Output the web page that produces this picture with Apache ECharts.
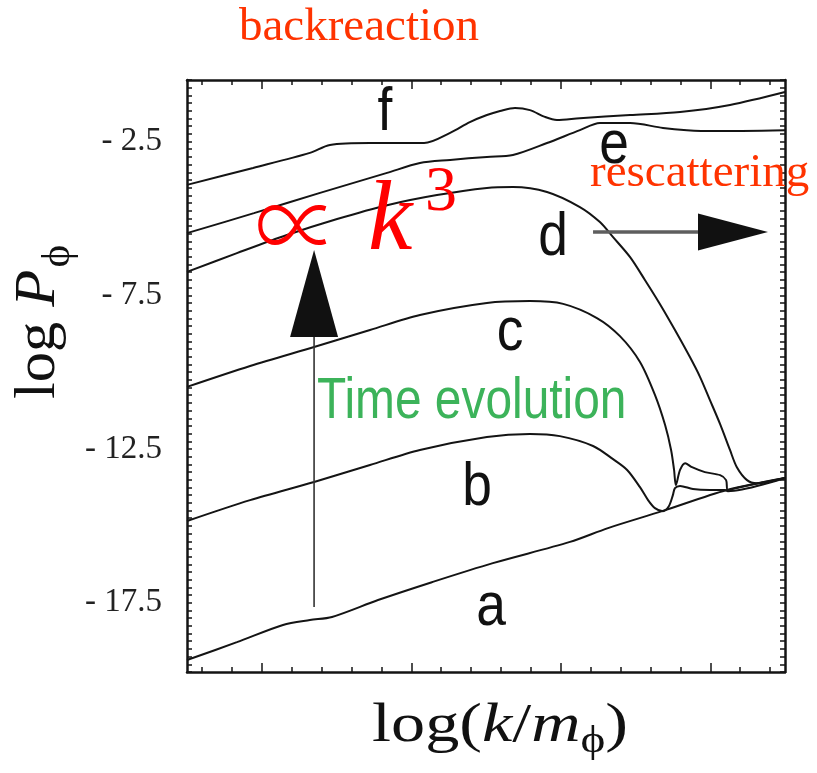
<!DOCTYPE html>
<html>
<head>
<meta charset="utf-8">
<script src="https://cdn.jsdelivr.net/npm/echarts@6/dist/echarts.min.js"></script>
<style>
  html, body { margin: 0; padding: 0; background: #ffffff; }
  #chart { width: 817px; height: 773px; }
</style>
</head>
<body>
<div id="chart"></div>
<script>
// Power spectrum log P_phi against log(k/m_phi) at six successive times (a -> f).
// x is in arbitrary log-k units across the frame, y is log P_phi.

const aX = [0, 1.67, 3.21, 4.11, 4.85, 6.39, 8.19, 10.23, 12.81, 14.08, 15.89, 18.06, 20];
const aY = [-19.36, -18.78, -18.22, -18.06, -17.96, -17.41, -16.83, -16.21, -15.52, -15.07, -14.52, -13.83, -13.44];

const bX = [0, 2.11, 4.25, 6.12, 7.79, 10.03, 11.47, 12.47, 13.58, 14.25, 14.72, 15.15, 15.42, 15.65, 15.92, 16.12, 16.25, 16.32, 16.49, 16.92, 17.49, 17.99, 18.09, 20];
const bY = [-14.84, -14.16, -13.57, -13.02, -12.53, -12.11, -12.01, -12.08, -12.40, -12.83, -13.18, -13.74, -14.16, -14.42, -14.52, -14.35, -14.00, -13.77, -13.70, -13.80, -13.83, -13.83, -13.87, -13.44];

const cX = [0, 2.11, 4.25, 6.12, 7.79, 10.03, 11.47, 12.58, 13.71, 14.48, 15.15, 15.65, 15.99, 16.19, 16.29, 16.35, 16.49, 16.66, 16.89, 17.32, 17.83, 18.03, 18.09, 18.49, 20];
const cY = [-10.48, -9.80, -9.18, -8.63, -8.14, -7.75, -7.69, -7.78, -8.24, -8.83, -9.67, -10.74, -11.72, -12.53, -13.18, -13.67, -13.18, -12.96, -13.09, -13.25, -13.35, -13.51, -13.83, -13.74, -13.44];

const dX = [0, 1.67, 3.34, 5.02, 6.69, 8.36, 10.03, 10.90, 12.04, 13.14, 13.81, 14.25, 14.82, 15.32, 15.82, 16.32, 16.82, 17.16, 17.49, 17.83, 18.16, 18.39, 18.73, 19.06, 20];
const dY = [-6.74, -6.13, -5.54, -5.02, -4.57, -4.24, -4.01, -3.98, -4.14, -4.63, -5.12, -5.61, -6.26, -7.01, -7.79, -8.63, -9.51, -10.16, -10.91, -11.69, -12.53, -13.09, -13.51, -13.61, -13.44];

const eX = [0, 2.24, 4.45, 6.69, 7.79, 8.80, 10.03, 10.90, 12.04, 13.14, 13.81, 14.82, 15.92, 16.72, 17.59, 20];
const eY = [-5.48, -4.83, -4.17, -3.52, -3.20, -3.10, -3.00, -2.94, -2.55, -2.13, -1.90, -1.90, -2.06, -2.13, -2.16, -2.13];

const fX = [0, 2.21, 4.11, 4.78, 6.12, 7.93, 8.80, 9.46, 10.03, 10.47, 10.97, 11.47, 11.97, 12.37, 13.14, 14.82, 16.49, 18.16, 20];
const fY = [-3.91, -3.36, -2.87, -2.61, -2.55, -2.55, -2.22, -1.87, -1.64, -1.51, -1.41, -1.48, -1.70, -1.80, -1.74, -1.64, -1.54, -1.31, -0.89];

// Axis ticks and labels
const yLabelValues = [-17.5, -12.5, -7.5, -2.5];
const xMinorTicks = [0.5, 1.5, 2.5, 3.5, 4.5, 5.5, 6.5, 7.5, 8.5, 9.5, 10.5, 11.5, 12.5, 13.5, 14.5, 15.5, 16.5, 17.5, 18.5, 19.5];
const xMajorTicks = [2.5, 7.5, 12.5, 17.5];

// Annotation arrows (data coordinates)
const timeArrowShaft = [[4.25, -17.64], [4.25, -8.86]];
const timeArrowHead = [[4.25, -7.44]];
const scatterArrowShaft = [[13.58, -5.44], [17.09, -5.44]];
const scatterArrowHead = [[18.26, -5.44]];

const SERIF = '"Liberation Serif", "Times New Roman", serif';
const SANS = '"Liberation Sans", Arial, sans-serif';
const INK = '#141414';

function pairs(xs, ys) { return xs.map((x, i) => [x, ys[i]]); }

function curve(name, xs, ys) {
  return {
    type: 'line', name: name, data: pairs(xs, ys),
    smooth: 0.3, showSymbol: false, symbol: 'none', silent: true,
    lineStyle: { color: INK, width: 2 }, z: 3
  };
}

// canvas 'middle' sits about 0.305 em above the alphabetic baseline for these fonts
function mid(baseline, size) { return baseline - 0.305 * size; }

function textEl(text, x, baseline, size, family, color, align, extra, fontStyle) {
  return Object.assign({
    type: 'text', x: x, y: mid(baseline, size), z: 50,
    style: {
      text: text, fontSize: size, fontFamily: family, fill: color,
      fontStyle: fontStyle || 'normal',
      align: align, verticalAlign: 'middle',
      textAlign: align, textVerticalAlign: 'middle'
    }
  }, extra || {});
}

const tickLine = { color: INK, width: 1.5 };
const frameLine = { color: INK, width: 2.5 };

function xTickAxis(position, ticks, len, withLine) {
  return {
    type: 'value', min: 0, max: 20, position: position,
    axisLine: { show: withLine, onZero: false, lineStyle: frameLine },
    axisTick: { show: true, inside: true, length: len, customValues: ticks, lineStyle: tickLine },
    axisLabel: { show: false }, splitLine: { show: false }
  };
}

function tag(t, x, baseline) {
  return textEl(t, x, baseline, 62, SANS, '#111111', 'center', { scaleX: 0.86 });
}

const option = {
  animation: false,
  backgroundColor: '#ffffff',
  grid: { left: 187, right: 32, top: 80, bottom: 101, containLabel: false },
  xAxis: [
    xTickAxis('bottom', xMinorTicks, 5, true),
    xTickAxis('top', xMinorTicks, 5, true),
    xTickAxis('bottom', xMajorTicks, 9, false),
    xTickAxis('top', xMajorTicks, 9, false)
  ],
  yAxis: [
    {
      type: 'value', min: -19.75, max: -0.5, interval: 0.25, position: 'left',
      axisLine: { show: true, onZero: false, lineStyle: frameLine },
      axisTick: { show: true, inside: true, length: 5, lineStyle: tickLine },
      axisLabel: {
        show: true, customValues: yLabelValues, margin: 25,
        fontFamily: SERIF, fontSize: 33, color: '#222222',
        formatter: v => '- ' + Math.abs(v)
      },
      splitLine: { show: false }
    },
    {
      type: 'value', min: -19.75, max: -0.5, interval: 0.25, position: 'right',
      axisLine: { show: true, onZero: false, lineStyle: frameLine },
      axisTick: { show: true, inside: true, length: 5, lineStyle: tickLine },
      axisLabel: { show: false }, splitLine: { show: false }
    }
  ],
  series: [
    curve('a', aX, aY),
    curve('b', bX, bY),
    curve('c', cX, cY),
    curve('d', dX, dY),
    curve('e', eX, eY),
    curve('f', fX, fY),
    {
      type: 'line', data: timeArrowShaft, showSymbol: false, symbol: 'none', silent: true,
      lineStyle: { color: '#333333', width: 1.6 }, z: 4
    },
    {
      type: 'scatter', data: timeArrowHead, symbol: 'triangle', symbolSize: [48, 87],
      itemStyle: { color: '#111111', opacity: 1 }, silent: true, z: 5
    },
    {
      type: 'line', data: scatterArrowShaft, showSymbol: false, symbol: 'none', silent: true,
      lineStyle: { color: '#5e5e5e', width: 3.5 }, z: 4
    },
    {
      type: 'scatter', data: scatterArrowHead, symbol: 'triangle', symbolSize: [37, 70],
      symbolRotate: -90, itemStyle: { color: '#111111', opacity: 1 }, silent: true, z: 5
    }
  ],
  graphic: { elements: [
    // red annotations
    textEl('backreaction', 359, 42, 47, SERIF, '#ff3300', 'center'),
    textEl('rescattering', 590, 188, 47, SERIF, '#ff3300', 'left'),
    {
      type: 'text', x: 297, y: 225, z: 60, scaleY: 1.2,
      style: { text: '\u221D', fontSize: 84, fontWeight: 200,
               fontFamily: '"Noto Sans CJK SC", "DejaVu Serif", serif', fill: '#ff0000',
               align: 'center', verticalAlign: 'middle', textAlign: 'center', textVerticalAlign: 'middle' }
    },
    textEl('k', 368, 253, 100, SERIF, '#ff0000', 'left', { z: 60 }, 'italic'),
    textEl('3', 425, 213, 64, SERIF, '#ff0000', 'left', { z: 60 }),
    // green caption by the time arrow
    textEl('Time evolution', 317, 420, 58, SANS, '#3cb35a', 'left', { scaleX: 0.825 }),
    // curve tags
    tag('a', 491, 627),
    tag('b', 477, 507),
    tag('c', 510, 352),
    tag('d', 553, 257),
    tag('e', 614, 165),
    tag('f', 385, 132),
    // axis titles
    {
      type: 'text', x: 500, y: mid(743, 55), z: 50, scaleX: 1.24,
      style: {
        text: '{r|log(}{i|k}{r|/}{i|m}{s|\u03D5}{r|)}',
        align: 'center', verticalAlign: 'middle', textAlign: 'center', textVerticalAlign: 'middle',
        fill: '#111111',
        rich: {
          r: { fontSize: 55, fontFamily: SERIF, fill: '#111111' },
          i: { fontSize: 55, fontFamily: SERIF, fontStyle: 'italic', fill: '#111111' },
          s: { fontSize: 38, fontFamily: SERIF, fill: '#111111', padding: [32, 0, 0, 0] }
        }
      }
    },
    {
      type: 'text', x: 39, y: 322, z: 50, rotation: Math.PI / 2, scaleX: 1.08,
      style: {
        text: '{r|log }{i|P}{s|\u03D5}',
        align: 'center', verticalAlign: 'middle', textAlign: 'center', textVerticalAlign: 'middle',
        fill: '#111111',
        rich: {
          r: { fontSize: 56, fontFamily: SERIF, fill: '#111111' },
          i: { fontSize: 56, fontFamily: SERIF, fontStyle: 'italic', fill: '#111111' },
          s: { fontSize: 40, fontFamily: SERIF, fill: '#111111', padding: [38, 0, 0, 2] }
        }
      }
    }
  ] }
};

const chart = echarts.init(document.getElementById('chart'), null, { renderer: 'canvas' });
chart.setOption(option);
</script>
</body>
</html>
